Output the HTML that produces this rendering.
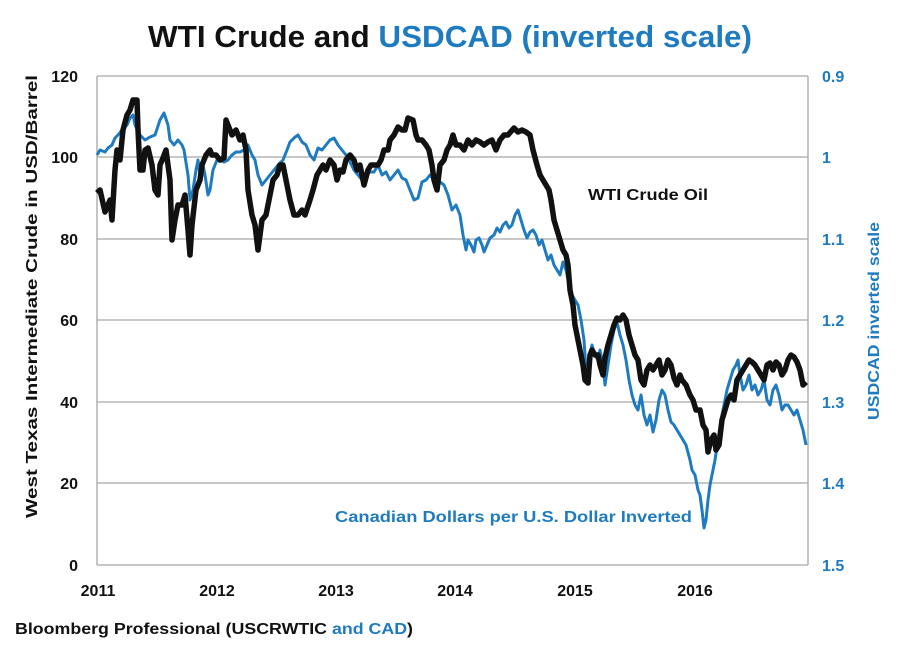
<!DOCTYPE html>
<html><head><meta charset="utf-8"><style>
html,body{margin:0;padding:0;background:#fff;}
svg text{font-family:"Liberation Sans",sans-serif;font-weight:bold;}
</style></head><body>
<svg width="900" height="652" viewBox="0 0 900 652" xmlns="http://www.w3.org/2000/svg">
<rect width="900" height="652" fill="#fff"/>
<text x="148" y="47" font-size="31" textLength="604" lengthAdjust="spacingAndGlyphs" fill="#111">WTI Crude and <tspan fill="#1f7bc0">USDCAD (inverted scale)</tspan></text>
<g stroke="#a6a6a6" stroke-width="1.3" fill="none">
<line x1="97" y1="76" x2="808" y2="76"/>
<line x1="97" y1="157" x2="808" y2="157"/>
<line x1="97" y1="239" x2="808" y2="239"/>
<line x1="97" y1="320" x2="808" y2="320"/>
<line x1="97" y1="402" x2="808" y2="402"/>
<line x1="97" y1="483" x2="808" y2="483"/>
<line x1="97" y1="565" x2="808" y2="565"/>
<line x1="97" y1="76" x2="97" y2="565"/>
<line x1="808" y1="76" x2="808" y2="565"/>
</g>
<g font-size="16" fill="#111" text-anchor="end">
<text x="78" y="82">120</text><text x="78" y="163">100</text><text x="78" y="245">80</text>
<text x="78" y="326">60</text><text x="78" y="408">40</text><text x="78" y="489">20</text><text x="78" y="571">0</text>
</g>
<g font-size="16" fill="#1f7bc0">
<text x="822" y="82">0.9</text><text x="822" y="163">1</text><text x="822" y="245">1.1</text>
<text x="822" y="326">1.2</text><text x="822" y="408">1.3</text><text x="822" y="489">1.4</text><text x="822" y="571">1.5</text>
</g>
<g font-size="16" fill="#111" text-anchor="middle">
<text x="98" y="596">2011</text><text x="217" y="596">2012</text><text x="336" y="596">2013</text>
<text x="455" y="596">2014</text><text x="575" y="596">2015</text><text x="695" y="596">2016</text>
</g>
<text transform="translate(37,518) rotate(-90)" font-size="16" textLength="443" lengthAdjust="spacingAndGlyphs" fill="#111">West Texas Intermediate Crude in USD/Barrel</text>
<text transform="translate(879,420) rotate(-90)" font-size="16" textLength="198" lengthAdjust="spacingAndGlyphs" fill="#1f7bc0">USDCAD inverted scale</text>
<text x="15" y="634" font-size="16" textLength="398" lengthAdjust="spacingAndGlyphs" fill="#111">Bloomberg Professional  (USCRWTIC <tspan fill="#1f7bc0">and CAD</tspan>)</text>
<text x="588" y="200" font-size="16" textLength="120" lengthAdjust="spacingAndGlyphs" fill="#111">WTI Crude Oil</text>
<text x="335" y="522" font-size="16" textLength="357" lengthAdjust="spacingAndGlyphs" fill="#1f7bc0">Canadian Dollars per U.S. Dollar Inverted</text>
<polyline fill="none" stroke="#1f7bc0" stroke-width="3" stroke-linejoin="round" points="97,155 100,150 105,152 108,148 112,145 115,138 118,135 122,130 127,125 130,118 133,115 135,125 140,135 145,140 150,137 155,135 160,120 164,113 168,125 170,140 174,145 178,140 182,145 184,150 188,175 190,200 193,190 196,170 198,160 200,175 203,165 205,175 208,195 210,190 213,170 217,160 220,160 224,162 228,160 232,155 236,152 240,152 244,150 248,145 252,155 255,160 258,175 262,185 266,180 270,175 274,170 278,165 283,160 287,150 290,142 294,138 298,135 302,142 306,145 310,155 314,160 318,148 322,150 326,145 330,140 334,138 338,145 342,150 346,155 350,162 354,170 358,175 362,180 366,175 370,172 374,172 378,165 382,175 386,172 390,180 394,175 398,170 402,178 406,180 410,190 414,200 418,198 422,182 426,180 430,175 434,180 437,185 440,182 444,185 448,195 452,210 456,205 460,215 463,235 466,250 468,240 471,245 474,252 476,240 479,238 482,245 484,252 487,245 490,238 494,235 497,228 500,232 503,225 506,222 509,228 512,225 515,215 518,210 521,220 524,230 527,238 530,232 533,230 536,235 539,245 542,240 545,250 548,260 551,255 554,265 557,270 560,275 563,262 566,270 569,285 572,295 575,300 578,305 581,320 584,340 586,370 588,380 590,355 592,345 595,355 598,360 600,350 603,365 605,385 608,365 611,345 614,330 617,322 620,335 623,345 626,360 629,380 632,395 635,405 638,410 641,395 644,415 647,425 650,415 653,432 656,420 659,400 662,390 665,395 668,410 671,422 674,425 677,430 680,435 683,440 686,445 690,460 692,470 695,475 698,490 700,495 702,510 704,528 706,520 708,500 710,485 712,475 715,460 718,440 721,420 724,405 727,390 730,380 733,370 736,365 738,360 740,375 743,390 746,385 749,375 752,390 755,385 758,395 761,390 764,380 767,400 770,405 773,390 776,385 779,395 782,410 785,405 788,405 791,410 794,415 797,410 800,420 803,430 806,445"/>
<polyline fill="none" stroke="#111" stroke-width="5.5" stroke-linejoin="round" points="97,193 100,190 105,212 110,200 112,220 115,170 117,150 120,160 123,130 127,115 130,110 133,100 137,100 138,130 140,170 143,170 145,150 148,148 152,165 155,190 158,195 160,165 163,158 166,150 170,180 172,240 175,220 178,205 182,205 185,195 188,230 190,255 192,225 196,190 200,180 202,165 204,160 206,155 210,150 212,155 216,155 220,160 224,158 226,120 228,125 232,135 236,130 240,140 243,135 246,150 248,190 252,215 255,225 258,250 262,220 266,215 270,195 273,180 277,175 280,165 283,165 286,180 290,200 294,215 298,215 302,210 305,215 310,200 313,190 317,175 320,170 323,165 326,170 330,160 334,165 337,180 340,170 343,172 346,160 350,155 354,160 357,170 360,165 364,185 368,170 371,165 374,165 378,165 381,160 384,150 388,150 390,140 394,135 398,127 402,130 405,130 408,118 413,120 416,135 418,140 422,140 426,145 429,150 432,165 434,180 437,190 440,165 444,160 447,150 450,145 453,135 456,145 460,145 464,150 468,140 472,145 476,140 480,142 484,145 488,142 492,140 496,150 500,140 504,135 508,135 514,128 518,132 522,130 526,132 530,135 533,150 537,165 540,175 543,180 546,185 549,190 551,200 554,220 557,230 560,240 563,250 566,255 568,265 570,290 573,305 575,325 577,335 580,350 583,365 585,380 588,383 590,355 592,350 595,355 598,355 600,365 603,375 605,358 608,345 611,335 614,325 617,318 620,320 623,315 626,320 629,335 632,345 635,355 638,360 641,380 644,385 647,370 650,365 653,370 656,365 659,360 662,375 665,370 668,360 671,365 674,378 677,385 680,375 682,380 686,385 690,395 693,400 696,410 700,410 703,425 706,430 708,452 711,440 714,435 716,450 719,445 722,420 725,410 728,400 731,395 734,400 737,380 740,375 743,370 746,365 749,360 752,362 755,365 758,370 761,375 764,380 767,365 770,363 773,370 776,362 779,365 782,375 785,370 788,360 791,355 794,357 797,362 800,370 803,385 806,382"/>
</svg>
</body></html>
